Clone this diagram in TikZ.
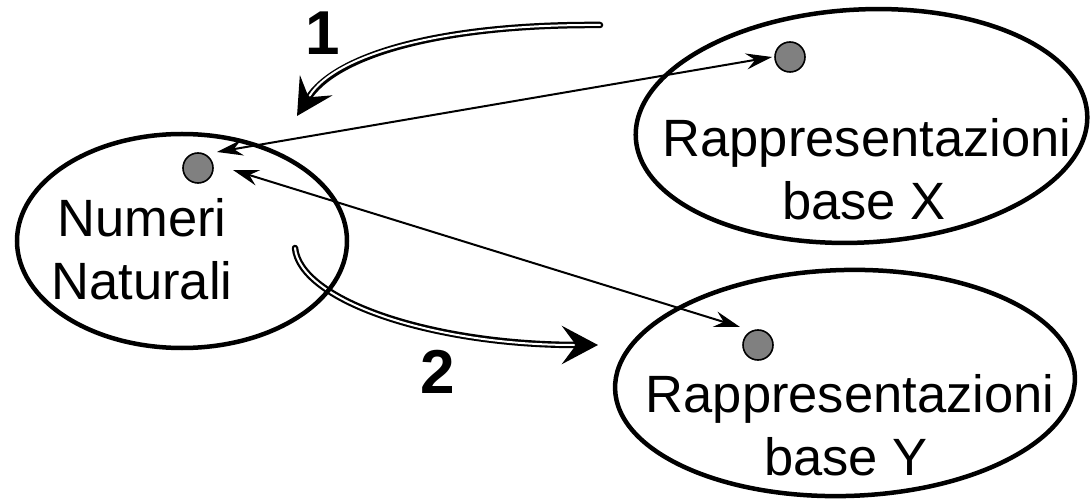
\documentclass[tikz,border=0pt]{standalone}
\usepackage{fontspec}
\setmainfont{Liberation Sans}
\usetikzlibrary{arrows.meta,shapes.geometric}
\tikzset{
  set/.style={draw, ellipse, line width=4.5pt, inner sep=0pt},
  dot/.style={circle, draw, line width=1.6pt, fill=gray, minimum size=30pt, inner sep=0pt},
  lbl/.style={anchor=base, font=\fontsize{52.5}{63}\selectfont, inner sep=0pt},
  num/.style={anchor=base, font=\fontsize{62}{70}\selectfont\bfseries, inner sep=0pt},
  thin/.style={line width=2pt, {Stealth[length=26pt,width=16pt,inset=9pt]}-{Stealth[length=26pt,width=16pt,inset=9pt]}},
  bigout/.style={line width=6.5pt, line cap=round, -{Stealth[length=36pt,width=38pt,inset=14pt]}},
  bigin/.style={line width=2pt, white, line cap=round, shorten >=24pt}
}
\begin{document}
\begin{tikzpicture}[x=1pt,y=-1pt]
\useasboundingbox (0,0) rectangle (1091,502);
% thick double arrows
\coordinate (s1) at (600,25);
\coordinate (e1) at (297,116);
\coordinate (s2) at (295,248);
\coordinate (e2) at (598,345);
\draw[bigout] (s1) .. controls (440,24) and (335,55) .. (e1);
\draw[bigin] (s1) .. controls (440,24) and (335,55) .. (e1);
\draw[bigout] (s2) .. controls (300,300) and (430,345) .. (e2);
\draw[bigin] (s2) .. controls (300,300) and (430,345) .. (e2);
% sets
\node[set, minimum width=330pt, minimum height=214pt] (NN) at (182,241) {};
\node[set, rotate=3, minimum width=452pt, minimum height=233pt] (BX) at (861.5,126) {};
\node[set, rotate=1.5, minimum width=460pt, minimum height=226pt] (BY) at (845,383) {};
% labels
\node[lbl] (t1) at (142,237) {Numeri};
\node[lbl] (t2) at (142,300) {Naturali};
\node[lbl] (t3) at (867,157) {Rappresentazioni};
\node[lbl] (t4) at (864,220) {base X};
\node[lbl] (t5) at (850,412) {Rappresentazioni};
\node[lbl] (t6) at (846,475) {base Y};
\node[num] (n1) at (323,55) {1};
\node[num] (n2) at (438,393) {2};
% dots
\node[dot] (dL) at (198,168) {};
\node[dot] (dX) at (790,57) {};
\node[dot] (dY) at (758,345) {};
% thin arrows
\coordinate (a1) at (217,152);
\coordinate (a2) at (772,57);
\coordinate (b1) at (233,170);
\coordinate (b2) at (740,327);
\draw[thin] (a1) -- (a2);
\draw[thin] (b1) -- (b2);
\end{tikzpicture}
\end{document}
